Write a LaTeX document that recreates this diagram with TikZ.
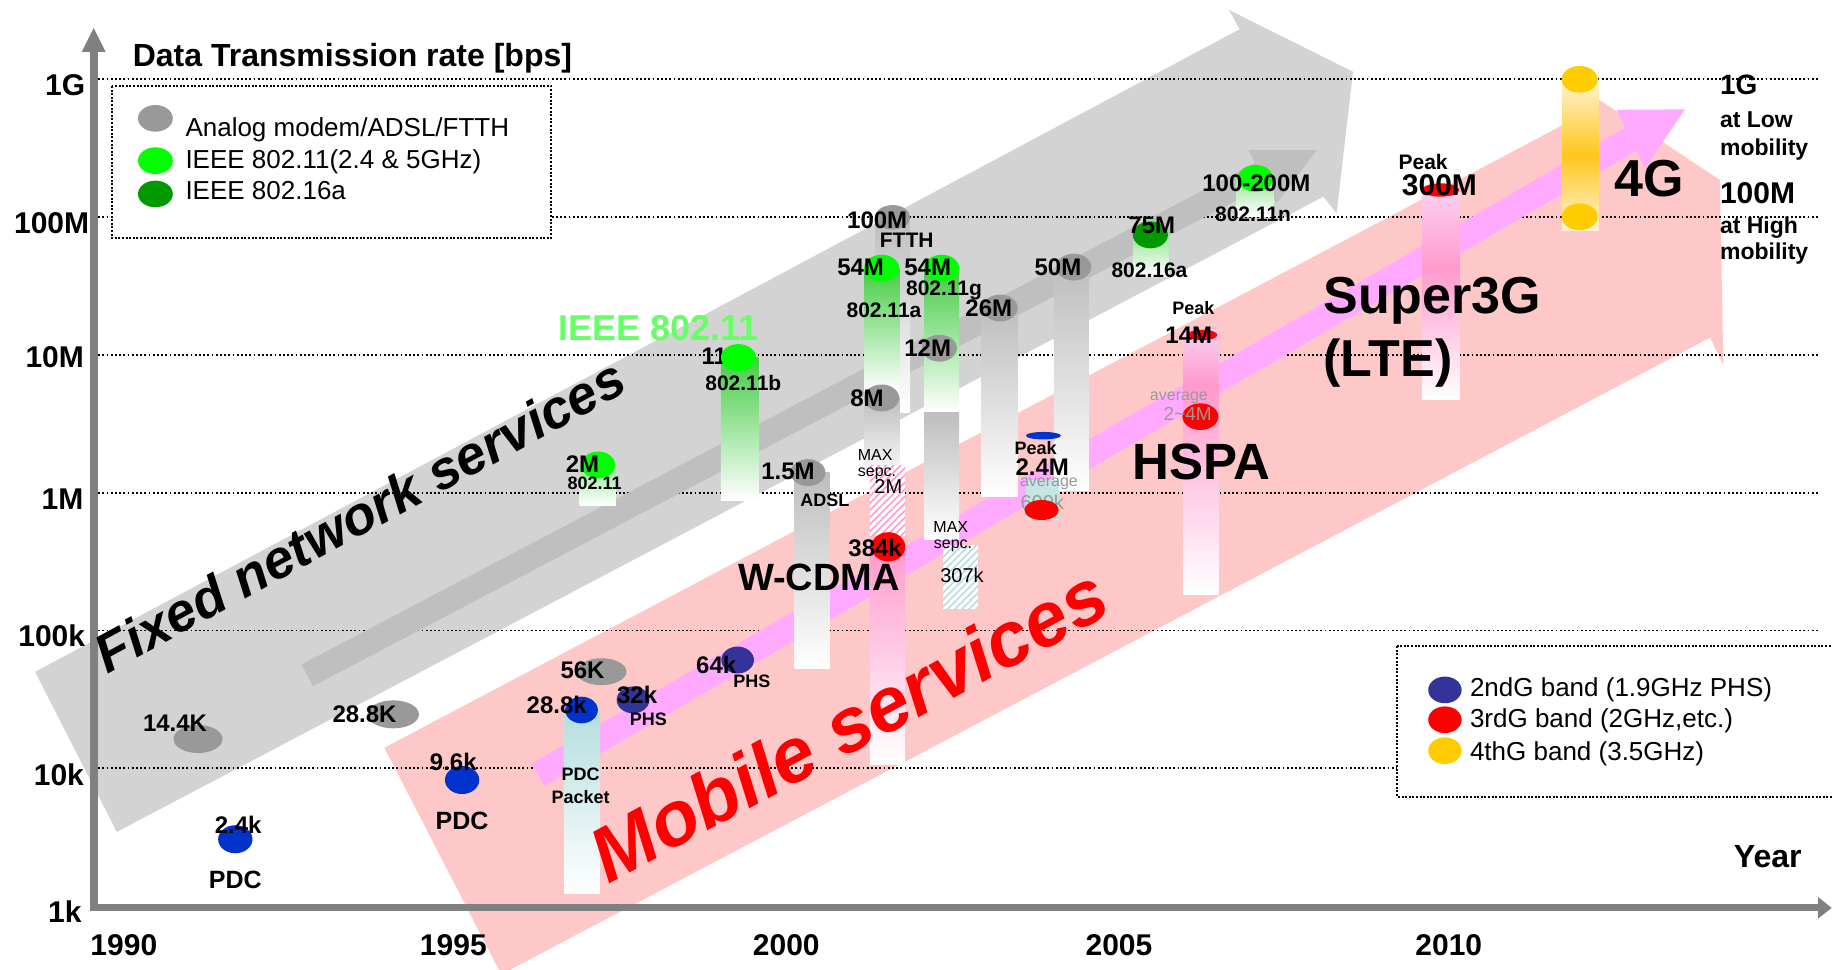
\documentclass[tikz,border=0pt]{standalone}
\usepackage{fontspec}
\setmainfont{Liberation Sans}
\usetikzlibrary{patterns.meta}
\newcommand{\sz}[1]{\fontsize{#1}{#1}\selectfont}
\definecolor{bandgray}{HTML}{D3D3D3}
\definecolor{bandpink}{HTML}{FFC8C8}
\definecolor{shaftgray}{HTML}{BFBFBF}
\definecolor{magarrow}{HTML}{FFAAFF}
\definecolor{axisgray}{HTML}{808080}
\definecolor{cgray}{HTML}{999999}
\definecolor{cgreen}{HTML}{00FF00}
\definecolor{cdkgreen}{HTML}{009900}
\definecolor{cblue}{HTML}{0033CC}
\definecolor{cnavy}{HTML}{333399}
\definecolor{cred}{HTML}{FF0000}
\definecolor{cyellow}{HTML}{FFCC00}
\definecolor{ieeegreen}{HTML}{66FF66}
\definecolor{pgray}{HTML}{BEBEBE}
\definecolor{pgreen}{HTML}{44CC44}
\definecolor{plgreen}{HTML}{99E699}
\definecolor{ppink}{HTML}{FF9ACD}
\definecolor{ppale}{HTML}{FBD0F2}
\definecolor{pcyan}{HTML}{B4DEDE}
\definecolor{pcyan2}{HTML}{C6E6E6}
\definecolor{pcream}{HTML}{FFF4D6}
\definecolor{pyellow}{HTML}{FFC61A}
\definecolor{avggray}{HTML}{999999}
\begin{document}
\begin{tikzpicture}[x=1.1684pt, y=-1.1684pt,
  gridline/.style={line width=1.8pt, dash pattern=on 1.8pt off 2.4pt},
  legbox/.style={line width=2pt, dash pattern=on 2pt off 1.6pt, fill=white},
  lab/.style={inner sep=0pt, font=\bfseries\sz{24}},
  labm/.style={inner sep=0pt, font=\bfseries\sz{21}},
  labs/.style={inner sep=0pt, font=\bfseries\sz{18}},
  rlab/.style={inner sep=0pt, font=\sz{16}},
  rlabl/.style={inner sep=0pt, font=\sz{20}},
  avg/.style={inner sep=0pt, font=\sz{16}, text=avggray},
  axlab/.style={inner sep=0pt, font=\bfseries\sz{30}, anchor=east},
  yrlab/.style={inner sep=0pt, font=\bfseries\sz{30}},
  legtxt/.style={inner sep=0pt, font=\sz{26}, anchor=base west},
  hugelab/.style={inner sep=0pt, font=\bfseries\sz{#1}, anchor=base west},
  pillar/.style={top color=#1, bottom color=white, draw=none}
]
\useasboundingbox (0,0) rectangle (1568,830.2);
\fill[white] (0,0) rectangle (1568,830.2);

% ---------- bands ----------
\fill[bandgray] (30,575) -- (1061,25) -- (1052,8.6) -- (1158,61.4) -- (1144,182.6) -- (1132.7,168.3) -- (100,712) -- cycle;
\fill[bandpink] (329,640) -- (1335,108.4) -- (1368,85) -- (1472,154) -- (1475,312.4) -- (1463.6,289) -- (429,834) -- cycle;

% ---------- grid lines ----------
\foreach \yy in {67.9,185.9,303.8,421.7,539.7,657.6}
  \draw[gridline] (84,\yy) -- (1556,\yy);

% ---------- legend boxes ----------
\draw[legbox] (95.5,73.6) rectangle (471.8,203.4);
\draw[legbox] (1196,553) rectangle (1590,681.8);

% ---------- trend arrows ----------
\draw[line width=24.5pt, shaftgray] (263,578) -- (1088,144);
\fill[shaftgray] (1068.4,128.4) -- (1127,128.4) -- (1092.7,174) -- cycle;
\draw[line width=25.7pt, magarrow] (460.5,663.2) -- (1396,119);
\fill[magarrow] (1383.6,94) -- (1442,93.6) -- (1408,144) -- cycle;

% ---------- axes ----------
\draw[line width=8pt, axisgray] (80.2,780) -- (80.2,44);
\fill[axisgray] (69.9,44.5) -- (90.5,44.5) -- (80.2,24) -- cycle;
\draw[line width=7pt, axisgray] (77,777) -- (1557,777);
\fill[axisgray] (1556,767.7) -- (1556,786.3) -- (1567.7,777) -- cycle;

% ---------- pillars ----------
\shade[pillar=pgray] (749,186) rectangle (779,353);
\shade[pillar=pgreen] (740,229.5) rectangle (770,335);
\shade[pillar=pgray] (740,340.6) rectangle (770,410);
\fill[white] (744.6,398) rectangle (774.6,459);
\fill[pattern={Lines[angle=45,distance=5pt,line width=1.6pt]}, pattern color=ppink] (744.6,398) rectangle (774.6,459);
\shade[pillar=ppink] (744.6,468) rectangle (774.6,654);
\shade[pillar=pgreen] (791,229.5) rectangle (821,353);
\shade[pillar=pgray] (791,353) rectangle (821,462);
\shade[pillar=pgray] (840,264) rectangle (871,425);
\shade[pillar=pgray] (902,229) rectangle (932,420);
\fill[pcyan2] (878,410.8) rectangle (906.6,445);
\fill[white] (807,466.5) rectangle (837,521);
\fill[pattern={Lines[angle=45,distance=5pt,line width=1.6pt]}, pattern color=pcyan] (807,466.5) rectangle (837,521);
\shade[pillar=pgray] (680,404.5) rectangle (710,572);
\shade[pillar=pgreen] (617,306) rectangle (649,428);
\shade[pillar=plgreen] (496,398) rectangle (527,433);
\shade[pillar=pcyan] (483,607.7) rectangle (513.5,764.5);
\shade[top color=ppale, bottom color=ppink] (1012.6,282.4) rectangle (1043.3,330);
\shade[pillar=ppink] (1012.6,329.5) rectangle (1043.3,508.8);
\shade[top color=ppale, bottom color=ppink] (1217,162.6) rectangle (1249,230);
\shade[pillar=ppink] (1217,229.5) rectangle (1249,342);
\shade[top color=pcream, bottom color=pcream, middle color=pyellow] (1337,67.9) rectangle (1368,197);
\shade[pillar=plgreen] (970,201) rectangle (1000,237);
\shade[pillar=plgreen] (1058,152.6) rectangle (1090,185);

% ---------- labels hidden partly behind dots ----------
\node[lab] (l11) at (611.3,305.3) {11};
\node[rlabl, text=avggray] (l600k) at (892,430) {600k};

% ---------- dots ----------
\fill[cgray] (169.5,632.5) ellipse [x radius=21, y radius=12];
\fill[cblue] (201.4,718.3) ellipse [x radius=14.7, y radius=12];
\fill[cgray] (336.6,611.4) ellipse [x radius=22, y radius=12];
\fill[cblue] (395.5,667.6) ellipse [x radius=14.7, y radius=12];
\fill[cgray] (514.8,574.9) ellipse [x radius=21.4, y radius=11.5];
\fill[cblue] (497.7,607.7) ellipse [x radius=14, y radius=11.4];
\fill[cnavy] (541.8,599) ellipse [x radius=14, y radius=11.5];
\fill[cnavy] (631.3,564.9) ellipse [x radius=14, y radius=11.5];
\fill[cgreen] (512,398) ellipse [x radius=14.5, y radius=11.5];
\fill[cgreen] (632,306) ellipse [x radius=15, y radius=11.5];
\fill[cgray] (691.5,404.5) ellipse [x radius=15, y radius=11.5];
\fill[cgray] (764,186) ellipse [x radius=15, y radius=10.5];
\fill[cgreen] (754.6,229.5) ellipse [x radius=15, y radius=11.5];
\fill[cgreen] (806,229.5) ellipse [x radius=15, y radius=11.5];
\fill[cgray] (754.6,340.6) ellipse [x radius=15, y radius=11.5];
\fill[cgray] (804,298) ellipse [x radius=15, y radius=11.5];
\fill[cgray] (856,263.6) ellipse [x radius=15, y radius=11.5];
\fill[cgray] (919,228.6) ellipse [x radius=15, y radius=11.5];
\fill[cdkgreen] (984.6,201) ellipse [x radius=15, y radius=11.5];
\fill[cgreen] (1074.5,152.6) ellipse [x radius=15, y radius=11.5];
\fill[cred] (760.3,468) ellipse [x radius=14.5, y radius=12.5];
\fill[cblue] (893,372.9) ellipse [x radius=15, y radius=3.2];
\fill[cred] (891.5,436.5) ellipse [x radius=14.7, y radius=8.6];
\fill[cred] (1029,286.7) ellipse [x radius=13, y radius=4.5];
\fill[cred] (1027.4,356.6) ellipse [x radius=15.4, y radius=11.4];
\fill[cred] (1233,162.6) ellipse [x radius=16, y radius=5.7];
\fill[cyellow] (1352,67.9) ellipse [x radius=15.4, y radius=11.4];
\fill[cyellow] (1352,185.5) ellipse [x radius=15.4, y radius=11.4];

% legend dots
\fill[cgray] (133,101.3) ellipse [x radius=14.9, y radius=11.4];
\fill[cgreen] (133,137.5) ellipse [x radius=14.9, y radius=11.4];
\fill[cdkgreen] (133,166) ellipse [x radius=14.9, y radius=11.4];
\fill[cnavy] (1236.7,590.5) ellipse [x radius=14.3, y radius=11.4];
\fill[cred] (1236.7,616) ellipse [x radius=14.3, y radius=11.4];
\fill[cyellow] (1236.7,642.5) ellipse [x radius=14.3, y radius=11.4];

% ---------- axis texts ----------
\node[hugelab=32] (ytitle) at (113.5,57) {Data Transmission rate [bps]};
\node[axlab] (y1G) at (73,73) {1G};
\node[axlab] (y100M) at (76.5,191) {100M};
\node[axlab] (y10M) at (72,306) {10M};
\node[axlab] (y1M) at (71.5,427) {1M};
\node[axlab] (y100k) at (73,544.5) {100k};
\node[axlab] (y10k) at (72,663) {10k};
\node[axlab] (y1k) at (70,780) {1k};
\node[yrlab] (x1990) at (106,808.8) {1990};
\node[yrlab] (x1995) at (388,808.8) {1995};
\node[yrlab] (x2000) at (673,808.8) {2000};
\node[yrlab] (x2005) at (957.7,808.8) {2005};
\node[yrlab] (x2010) at (1240,808.8) {2010};
\node[inner sep=0pt, font=\bfseries\sz{32}] (xyear) at (1513,733) {Year};

% ---------- legends ----------
\node[legtxt] (lg1) at (158.6,117) {Analog modem/ADSL/FTTH};
\node[legtxt] (lg2) at (158.6,144) {IEEE 802.11(2.4 \& 5GHz)};
\node[legtxt] (lg3) at (158.6,171) {IEEE 802.16a};
\node[legtxt] (lg4) at (1258,596) {2ndG band (1.9GHz PHS)};
\node[legtxt] (lg5) at (1258,623) {3rdG band (2GHz,etc.)};
\node[legtxt] (lg6) at (1258,650.5) {4thG band (3.5GHz)};

% ---------- big titles ----------
\node[inner sep=0pt, font=\bfseries\itshape\sz{54}, anchor=base west, rotate=28.5] (tfixed) at (91.7,577) {Fixed network services};
\node[inner sep=0pt, font=\bfseries\itshape\sz{77}, anchor=base west, rotate=28.3, text=cred] (tmobile) at (521,757) {Mobile services};
\node[inner sep=0pt, font=\bfseries\sz{36}, text=ieeegreen] (tieee) at (563.5,281) {IEEE 802.11};
\node[inner sep=0pt, font=\bfseries\sz{38}] (twcdma) at (701,494.4) {W-CDMA};
\node[hugelab=51] (thspa) at (969.4,410.8) {HSPA};
\node[hugelab=52] (tsuper) at (1133,268) {Super3G};
\node[hugelab=52] (tlte) at (1132.5,322.4) {(LTE)};
\node[hugelab=52] (t4g) at (1382,168) {4G};
\node[hugelab=28] (r1g) at (1472,81.3) {1G};
\node[hugelab=23] (rlow1) at (1472,109) {at Low};
\node[hugelab=23] (rlow2) at (1472,132.7) {mobility};
\node[hugelab=30] (r100m) at (1472,174) {100M};
\node[hugelab=23] (rhigh1) at (1472,199.7) {at High};
\node[hugelab=23] (rhigh2) at (1472,222.5) {mobility};

% ---------- data labels ----------
\node[lab] (l144k) at (149.8,619) {14.4K};
\node[lab] (l24k) at (203.9,706) {2.4k};
\node[inner sep=0pt, font=\bfseries\sz{25}] (lpdc1) at (201.4,753) {PDC};
\node[lab] (l288K) at (312,611.4) {28.8K};
\node[lab] (l96k) at (388,652) {9.6k};
\node[inner sep=0pt, font=\bfseries\sz{25}] (lpdc2) at (395.5,703) {PDC};
\node[lab] (l56k) at (498.6,573.4) {56K};
\node[lab] (l288k) at (476.5,603.4) {28.8k};
\node[lab] (l32k) at (545.3,594.8) {32k};
\node[labs] (lphs1) at (555,615.6) {PHS};
\node[lab] (l64k) at (613,569) {64k};
\node[labs] (lphs2) at (643.5,583) {PHS};
\node[labs] (lpdcp1) at (497,662.7) {PDC};
\node[labs] (lpdcp2) at (497,681.8) {Packet};
\node[lab] (l2m) at (498.6,397.2) {2M};
\node[labs] (l80211) at (508.9,413.7) {802.11};
\node[labm] (l80211b) at (636.2,327.5) {802.11b};
\node[lab] (l15m) at (674.4,403.7) {1.5M};
\node[labs] (ladsl) at (706,428) {ADSL};
\node[lab] (l100m) at (750.8,188.3) {100M};
\node[labm] (lftth) at (776,205.4) {FTTH};
\node[lab] (l54ma) at (736.6,228.8) {54M};
\node[lab] (l54mg) at (794,228.8) {54M};
\node[labm] (l80211g) at (808,248.2) {802.11g};
\node[labm] (l80211a) at (756.6,265.3) {802.11a};
\node[lab] (l26m) at (846.3,263.9) {26M};
\node[lab] (l12m) at (794,298) {12M};
\node[lab] (l50m) at (905.5,228.8) {50M};
\node[lab] (l8m) at (742,341) {8M};
\node[lab] (l75m) at (985.7,192.6) {75M};
\node[labm] (l80216a) at (983.8,231) {802.16a};
\node[lab] (l100200m) at (1075.3,157) {100-200M};
\node[labm] (l80211n) at (1072.5,183) {802.11n};
\node[lab] (l384k) at (749,469.3) {384k};
\node[rlab] (lmax1) at (749,389) {MAX};
\node[rlab] (lsepc1) at (750.6,405.4) {sepc.};
\node[rlabl] (l2mmax) at (760.3,416) {2M};
\node[rlab] (lmax2) at (813.8,450.7) {MAX};
\node[rlab] (lsepc2) at (815.7,467) {sepc.};
\node[rlabl] (l307k) at (823.4,492.1) {307k};
\node[labs] (lpeak1) at (886.4,383.7) {Peak};
\node[lab] (l24m) at (892,400) {2.4M};
\node[avg] (lavg1) at (897.8,414.2) {average};
\node[labs] (lpeak2) at (1021.4,263.9) {Peak};
\node[lab] (l14m) at (1017.4,286.7) {14M};
\node[avg] (lavg2) at (1009,340.4) {average};
\node[inner sep=0pt, font=\sz{19}, text=avggray] (l24mavg) at (1016.6,354.4) {2\textasciitilde4M};
\node[labm] (lpeak3) at (1218,139) {Peak};
\node[inner sep=0pt, font=\bfseries\sz{30}] (l300m) at (1232,158.3) {300M};
\end{tikzpicture}
\end{document}
